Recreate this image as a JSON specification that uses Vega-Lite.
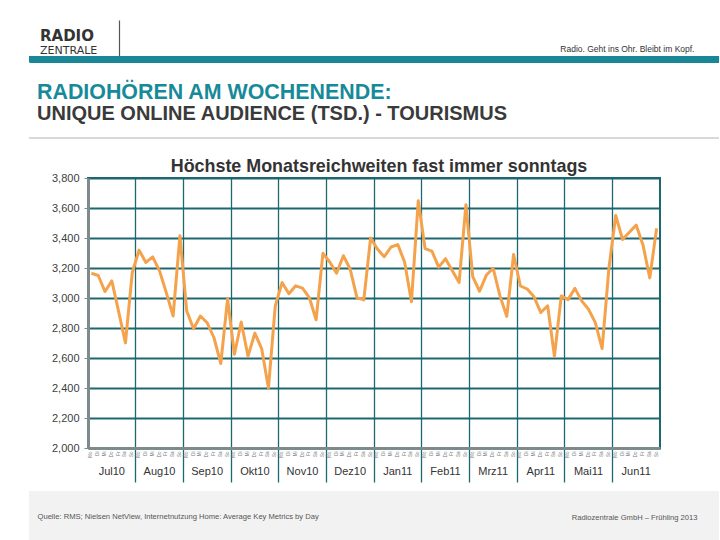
{
  "$schema": "https://vega.github.io/schema/vega-lite/v6.json",
  "background": "white",
  "padding": {"left": 29, "top": 0, "right": 0, "bottom": 0},
  "spacing": 0,
  "bounds": "flush",
  "center": true,
  "config": {"view": {"stroke": null}, "font": "Liberation Sans"},
  "vconcat": [
    {"width": 690, "height": 20, "data": {"values": []}, "mark": "point"},
    {
      "width": 690, "height": 36, "data": {"values": []}, "mark": "point",
      "encoding": {
        "x": {"field": "a", "type": "quantitative", "scale": {"domain": [0, 1]},
          "axis": {"orient": "bottom", "domain": false, "labels": false, "ticks": false, "grid": false,
            "title": "Radio. Geht ins Ohr. Bleibt im Kopf.", "titleX": 665, "titleY": -5,
            "titleAlign": "right", "titleAnchor": "end", "titleBaseline": "alphabetic",
            "titleFont": "Liberation Sans", "titleFontSize": 8.5, "titleFontWeight": "normal", "titleColor": "#333333"}},
        "y": {"field": "b", "type": "quantitative", "scale": {"domain": [0, 1]},
          "axis": {"orient": "left", "offset": -90, "domain": true, "domainColor": "#555555", "domainWidth": 1.2,
            "labels": false, "ticks": false, "grid": false, "title": null}}
      }
    },
    {"width": 690, "height": 3, "data": {"values": []}, "mark": "point", "view": {"fill": "#1a8796", "stroke": null}},
    {
      "width": 690, "height": 3, "data": {"values": [{"b": 0.5}]}, "mark": {"type": "point", "opacity": 0},
      "view": {"fill": "#1a8796", "stroke": null},
      "encoding": {
        "y": {"field": "b", "type": "quantitative", "scale": {"domain": [0, 1]},
          "axis": {"orient": "left", "values": [0.5], "grid": true, "gridColor": "#1a8796", "gridWidth": 3, "gridOpacity": 1,
            "domain": false, "labels": false, "ticks": false, "title": null}}
      },
      "title": {"text": "RADIO", "subtitle": "ZENTRALE", "anchor": "start", "frame": "group", "dx": 11, "offset": 2,
        "font": "DejaVu Sans", "fontSize": 15, "fontWeight": "bold", "color": "#333333",
        "subtitleFont": "DejaVu Sans", "subtitleFontSize": 11, "subtitleColor": "#333333", "subtitlePadding": 1}
    },
    {"width": 690, "height": 75, "data": {"values": []}, "mark": "point"},
    {
      "width": 690, "height": 2, "data": {"values": []}, "mark": "point",
      "view": {"fill": "#d9d9d9", "stroke": null},
      "title": {"text": "RADIOHÖREN AM WOCHENENDE:", "subtitle": "UNIQUE ONLINE AUDIENCE (TSD.) - TOURISMUS",
        "anchor": "start", "frame": "group", "dx": 8, "offset": 13,
        "font": "Liberation Sans", "fontSize": 21.4, "fontWeight": "bold", "color": "#178a9a",
        "subtitleFont": "Liberation Sans", "subtitleFontSize": 20, "subtitleFontWeight": "bold",
        "subtitleColor": "#3a3a3a", "subtitlePadding": 1}
    },
    {"width": 690, "height": 39, "data": {"values": []}, "mark": "point"},
    {
      "width": 572, "height": 270,
      "view": {"stroke": "#1d6771", "strokeWidth": 2, "fill": "white"},
      "title": {"text": "Höchste Monatsreichweiten fast immer sonntags", "anchor": "middle", "frame": "group",
        "offset": -4, "dx": 5, "font": "Liberation Sans", "fontSize": 17.9, "fontWeight": "bold", "color": "#333333"},
      "data": {"values": [
        {"key": "Jul10 Mo", "v": 3165}, {"key": "Jul10 Di", "v": 3150}, {"key": "Jul10 Mi", "v": 3043}, {"key": "Jul10 Do", "v": 3114}, {"key": "Jul10 Fr", "v": 2909}, {"key": "Jul10 Sa", "v": 2701}, {"key": "Jul10 So", "v": 3170},
        {"key": "Aug10 Mo", "v": 3319}, {"key": "Aug10 Di", "v": 3237}, {"key": "Aug10 Mi", "v": 3274}, {"key": "Aug10 Do", "v": 3181}, {"key": "Aug10 Fr", "v": 3036}, {"key": "Aug10 Sa", "v": 2880}, {"key": "Aug10 So", "v": 3415},
        {"key": "Sep10 Mo", "v": 2913}, {"key": "Sep10 Di", "v": 2795}, {"key": "Sep10 Mi", "v": 2880}, {"key": "Sep10 Do", "v": 2835}, {"key": "Sep10 Fr", "v": 2735}, {"key": "Sep10 Sa", "v": 2563}, {"key": "Sep10 So", "v": 2996},
        {"key": "Okt10 Mo", "v": 2625}, {"key": "Okt10 Di", "v": 2840}, {"key": "Okt10 Mi", "v": 2612}, {"key": "Okt10 Do", "v": 2766}, {"key": "Okt10 Fr", "v": 2663}, {"key": "Okt10 Sa", "v": 2400}, {"key": "Okt10 So", "v": 2947},
        {"key": "Nov10 Mo", "v": 3103}, {"key": "Nov10 Di", "v": 3028}, {"key": "Nov10 Mi", "v": 3081}, {"key": "Nov10 Do", "v": 3066}, {"key": "Nov10 Fr", "v": 3003}, {"key": "Nov10 Sa", "v": 2855}, {"key": "Nov10 So", "v": 3298},
        {"key": "Dez10 Mo", "v": 3240}, {"key": "Dez10 Di", "v": 3165}, {"key": "Dez10 Mi", "v": 3282}, {"key": "Dez10 Do", "v": 3193}, {"key": "Dez10 Fr", "v": 3003}, {"key": "Dez10 Sa", "v": 2987}, {"key": "Dez10 So", "v": 3400},
        {"key": "Jan11 Mo", "v": 3327}, {"key": "Jan11 Di", "v": 3275}, {"key": "Jan11 Mi", "v": 3340}, {"key": "Jan11 Do", "v": 3356}, {"key": "Jan11 Fr", "v": 3238}, {"key": "Jan11 Sa", "v": 2975}, {"key": "Jan11 So", "v": 3648},
        {"key": "Feb11 Mo", "v": 3329}, {"key": "Feb11 Di", "v": 3313}, {"key": "Feb11 Mi", "v": 3206}, {"key": "Feb11 Do", "v": 3262}, {"key": "Feb11 Fr", "v": 3182}, {"key": "Feb11 Sa", "v": 3104}, {"key": "Feb11 So", "v": 3622},
        {"key": "Mrz11 Mo", "v": 3142}, {"key": "Mrz11 Di", "v": 3045}, {"key": "Mrz11 Mi", "v": 3153}, {"key": "Mrz11 Do", "v": 3198}, {"key": "Mrz11 Fr", "v": 3014}, {"key": "Mrz11 Sa", "v": 2877}, {"key": "Mrz11 So", "v": 3290},
        {"key": "Apr11 Mo", "v": 3080}, {"key": "Apr11 Di", "v": 3060}, {"key": "Apr11 Mi", "v": 3008}, {"key": "Apr11 Do", "v": 2903}, {"key": "Apr11 Fr", "v": 2948}, {"key": "Apr11 Sa", "v": 2612}, {"key": "Apr11 So", "v": 3014},
        {"key": "Mai11 Mo", "v": 2989}, {"key": "Mai11 Di", "v": 3064}, {"key": "Mai11 Mi", "v": 2981}, {"key": "Mai11 Do", "v": 2925}, {"key": "Mai11 Fr", "v": 2836}, {"key": "Mai11 Sa", "v": 2663}, {"key": "Mai11 So", "v": 3200},
        {"key": "Jun11 Mo", "v": 3550}, {"key": "Jun11 Di", "v": 3390}, {"key": "Jun11 Mi", "v": 3438}, {"key": "Jun11 Do", "v": 3486}, {"key": "Jun11 Fr", "v": 3354}, {"key": "Jun11 Sa", "v": 3134}, {"key": "Jun11 So", "v": 3464}
      ]},
      "layer": [
        {
          "mark": {"type": "line", "color": "#f4a24c", "strokeWidth": 3, "strokeJoin": "round"},
          "encoding": {
            "x": {"field": "key", "type": "ordinal", "sort": null, "bandPosition": 0.5,
              "scale": {"type": "band", "paddingInner": 0, "paddingOuter": 0},
              "axis": {"orient": "bottom", "bandPosition": 0,
                "values": ["Aug10 Mo", "Sep10 Mo", "Okt10 Mo", "Nov10 Mo", "Dez10 Mo", "Jan11 Mo", "Feb11 Mo", "Mrz11 Mo", "Apr11 Mo", "Mai11 Mo", "Jun11 Mo"],
                "grid": true, "gridColor": "#1d6771", "gridWidth": 1.3, "gridOpacity": 1,
                "ticks": true, "tickSize": 34, "tickColor": "#1d6771", "tickWidth": 1.3,
                "labels": false, "domain": true, "domainColor": "#7d8b8c", "domainWidth": 3, "title": null}},
            "y": {"field": "v", "type": "quantitative",
              "scale": {"domain": [2000, 3800], "nice": false, "zero": false},
              "axis": {"values": [2000, 2200, 2400, 2600, 2800, 3000, 3200, 3400, 3600, 3800], "format": ",d",
                "grid": true, "gridColor": "#1d6771", "gridWidth": 2, "gridOpacity": 1,
                "domainColor": "#7d8b8c", "domainWidth": 3, "tickColor": "#7d8b8c", "tickSize": 4,
                "labelFont": "Liberation Sans", "labelFontSize": 11, "labelColor": "#404040", "labelPadding": 5, "title": null}}
          }
        },
        {
          "mark": {"type": "point", "opacity": 0},
          "encoding": {
            "x": {"field": "key", "type": "ordinal", "sort": null,
              "axis": {"orient": "bottom", "labelExpr": "slice(datum.value, 6)", "labelAngle": 270,
                "labelFontSize": 4.5, "labelColor": "#777777", "labelPadding": 3, "labelOverlap": false, "labelBound": false,
                "ticks": false, "domain": false, "grid": false, "title": null}},
            "y": {"field": "v", "type": "quantitative",
              "axis": {"values": [2000, 2200, 2400, 2600, 2800, 3000, 3200, 3400, 3600, 3800], "format": ",d",
                "grid": true, "gridColor": "#1d6771", "gridWidth": 2, "gridOpacity": 1,
                "domainColor": "#7d8b8c", "domainWidth": 3, "tickColor": "#7d8b8c", "tickSize": 4,
                "labelFont": "Liberation Sans", "labelFontSize": 11, "labelColor": "#404040", "labelPadding": 5, "title": null}}
          }
        },
        {
          "mark": {"type": "point", "opacity": 0},
          "encoding": {
            "x": {"field": "key", "type": "ordinal", "sort": null,
              "axis": {"orient": "bottom",
                "values": ["Jul10 Do", "Aug10 Do", "Sep10 Do", "Okt10 Do", "Nov10 Do", "Dez10 Do", "Jan11 Do", "Feb11 Do", "Mrz11 Do", "Apr11 Do", "Mai11 Do", "Jun11 Do"],
                "labelExpr": "slice(datum.value, 0, 5)", "labelAngle": 0, "labelFont": "Liberation Sans",
                "labelFontSize": 11, "labelColor": "#333333", "labelPadding": 17, "labelOverlap": false,
                "ticks": false, "domain": false, "grid": false, "title": null}},
            "y": {"field": "v", "type": "quantitative",
              "axis": {"values": [2000, 2200, 2400, 2600, 2800, 3000, 3200, 3400, 3600, 3800], "format": ",d",
                "grid": true, "gridColor": "#1d6771", "gridWidth": 2, "gridOpacity": 1,
                "domainColor": "#7d8b8c", "domainWidth": 3, "tickColor": "#7d8b8c", "tickSize": 4,
                "labelFont": "Liberation Sans", "labelFontSize": 11, "labelColor": "#404040", "labelPadding": 5, "title": null}}
          }
        }
      ],
      "resolve": {"axis": {"x": "independent"}}
    },
    {"width": 690, "height": 43, "data": {"values": []}, "mark": "point"},
    {
      "width": 690, "height": 49, "data": {"values": []}, "mark": "point",
      "view": {"fill": "#f2f2f2", "stroke": null},
      "encoding": {
        "x": {"field": "a", "type": "quantitative", "scale": {"domain": [0, 1]},
          "axis": {"orient": "top", "domain": false, "labels": false, "ticks": false, "grid": false,
            "title": "Quelle: RMS; Nielsen NetView, Internetnutzung Home: Average Key Metrics by Day",
            "titleX": 8, "titleY": 27, "titleAlign": "left", "titleAnchor": "start", "titleBaseline": "alphabetic",
            "titleFont": "Liberation Sans", "titleFontSize": 7.6, "titleFontWeight": "normal", "titleColor": "#555555"}},
        "y": {"field": "b", "type": "quantitative", "scale": {"domain": [0, 1]},
          "axis": {"orient": "left", "domain": false, "labels": false, "ticks": false, "grid": false,
            "title": "Radiozentrale GmbH – Frühling 2013", "titleAngle": 0, "titleX": 668, "titleY": 28,
            "titleAlign": "right", "titleBaseline": "alphabetic",
            "titleFont": "Liberation Sans", "titleFontSize": 7.6, "titleFontWeight": "normal", "titleColor": "#555555"}}
      }
    }
  ]
}
